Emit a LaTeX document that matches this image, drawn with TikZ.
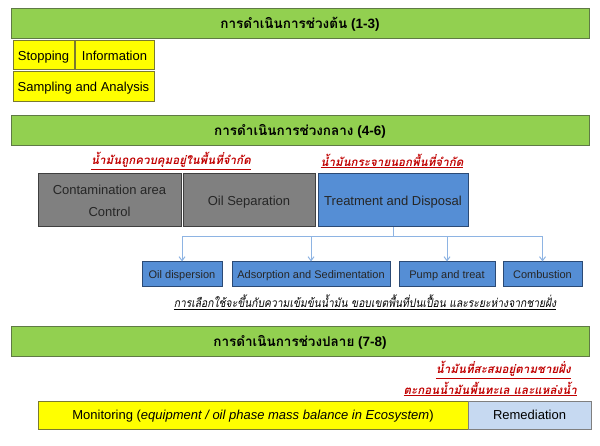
\documentclass[tikz,border=0pt]{standalone}
\usepackage{fontspec}
\setmainfont{Liberation Sans}
\newfontfamily\thai[Script=Thai]{Loma}
\newfontfamily\thainarrow[Script=Thai,FakeStretch=0.86]{Loma}
\usetikzlibrary{arrows.meta}
\definecolor{hgreen}{HTML}{92D050}
\definecolor{hgreenb}{HTML}{5F7A45}
\definecolor{yel}{HTML}{FFFF00}
\definecolor{yelb}{HTML}{7A7A30}
\definecolor{gry}{HTML}{808080}
\definecolor{gryb}{HTML}{3F3F3F}
\definecolor{blu}{HTML}{558ED5}
\definecolor{blub}{HTML}{2B4A75}
\definecolor{lblu}{HTML}{C6D9F1}
\definecolor{lblub}{HTML}{7F7F7F}
\definecolor{conn}{HTML}{8EB4E3}
\definecolor{redt}{HTML}{C00000}
\tikzset{
  box/.style={draw, line width=1pt, inner sep=0pt, align=center, text height=10pt, text depth=0.8pt, font=\fontsize{13}{15}\selectfont},
  hbar/.style={box, fill=hgreen, draw=hgreenb, minimum width=578pt, minimum height=30pt, font=\fontsize{13.5}{15}\selectfont},
  ybox/.style={box, fill=yel, draw=yelb, minimum height=29pt},
  gbox/.style={box, fill=gry, draw=gryb, minimum height=53pt, text=black!85},
  bbox/.style={box, fill=blu, draw=blub, minimum height=53pt, text=black!85},
  sbox/.style={box, fill=blu, draw=blub, minimum height=25pt, text=black!85, text height=8.5pt, text depth=0.6pt, font=\fontsize{11}{13}\selectfont},
  redlab/.style={inner sep=0pt, text=redt, font=\thai\fontsize{11.6}{14}\selectfont\bfseries\itshape},
  notelab/.style={inner sep=0pt, text=black, font=\thainarrow\fontsize{12}{14}\selectfont\itshape},
  conline/.style={draw=conn, line width=1pt, -{Straight Barb[length=4pt,width=6pt]}}
}
\begin{document}
\begin{tikzpicture}[x=1pt,y=-1pt]
\useasboundingbox (0,0) rectangle (600,446);
% stage 1
\node[hbar] (h1) at (300,24) {{\thai\bfseries การดำเนินการช่วงต้น} \textbf{(1-3)}};
\node[ybox, minimum width=61pt] (stop) at (43.5,55.5) {Stopping};
\node[ybox, minimum width=79pt] (info) at (114.5,55.5) {Information};
\node[ybox, minimum width=141pt, minimum height=30pt] (samp) at (83.5,87) {Sampling and Analysis};
% stage 2
\node[hbar] (h2) at (300,131) {{\thai\bfseries การดำเนินการช่วงกลาง} \textbf{(4-6)}};
\node[redlab] (r1) at (171,161) {\underline{น้ำมันถูกควบคุมอยู่ในพื้นที่จำกัด}};
\node[redlab] (r2) at (392,161) {\underline{น้ำมันกระจายนอกพื้นที่จำกัด}};
\node[gbox, minimum width=143pt, text height=, text depth=] (cac) at (109.5,200.5) {Contamination area\\[7pt]Control};
\node[gbox, minimum width=132pt] (os) at (249,200.5) {Oil Separation};
\node[bbox, minimum width=150pt] (td) at (393,200.5) {Treatment and Disposal};
\node[sbox, minimum width=80pt] (od) at (182,274.5) {Oil dispersion};
\node[sbox, minimum width=158pt] (ads) at (311,274.5) {Adsorption and Sedimentation};
\node[sbox, minimum width=96pt] (pt) at (447,274.5) {Pump and treat};
\node[sbox, minimum width=79pt] (comb) at (542.5,274.5) {Combustion};
\foreach \t in {od,ads,pt,comb}{
  \draw[conline] (td.south) -- ++(0,9) -| (\t.north);
}
\node[notelab] (note) at (365,302) {\underline{การเลือกใช้จะขึ้นกับความเข้มข้นน้ำมัน ขอบเขตพื้นที่ปนเปื้อน และระยะห่างจากชายฝั่ง}};
% stage 3
\node[hbar] (h3) at (300,342) {{\thai\bfseries การดำเนินการช่วงปลาย} \textbf{(7-8)}};
\node[redlab, anchor=east] (r3) at (571,370) {\underline{น้ำมันที่สะสมอยู่ตามชายฝั่ง}};
\node[redlab, anchor=east] (r4) at (577,389) {\underline{ตะกอนน้ำมันพื้นทะเล และแหล่งน้ำ}};
\node[box, fill=yel, draw=yelb, minimum width=430pt, minimum height=28pt] (mon) at (253,415) {Monitoring (\textit{equipment / oil phase mass balance in Ecosystem})};
\node[box, fill=lblu, draw=lblub, minimum width=123pt, minimum height=28pt] (rem) at (529.5,415) {Remediation};
\end{tikzpicture}
\end{document}
